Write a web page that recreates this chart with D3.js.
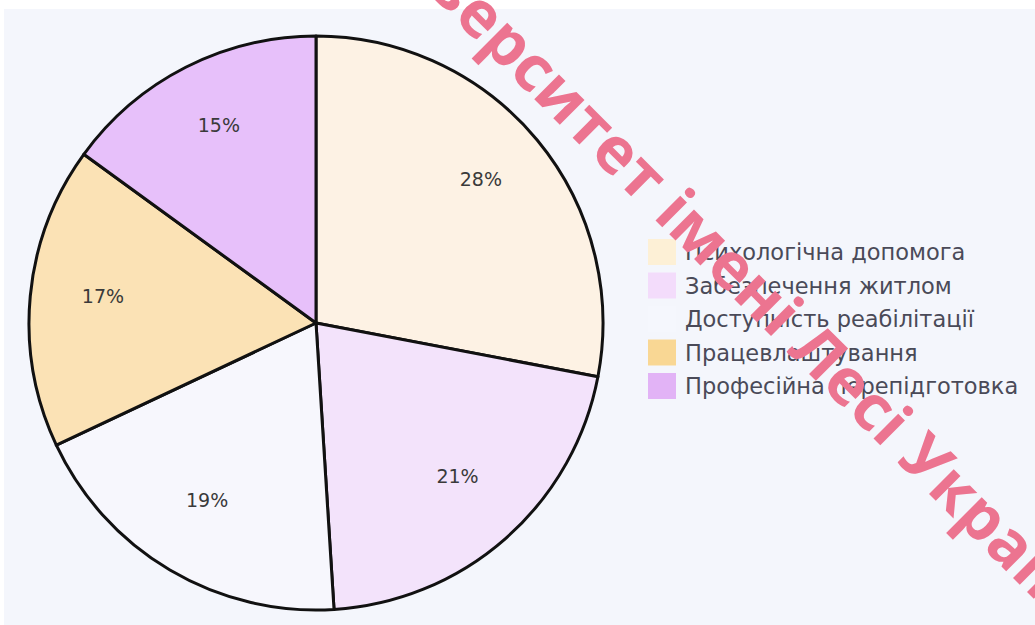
<!DOCTYPE html>
<html>
<head>
<meta charset="utf-8">
<script src="https://cdn.jsdelivr.net/npm/d3@7"></script>
<style>
  html, body { margin: 0; padding: 0; background: #ffffff; }
  svg { display: block; }
</style>
</head>
<body>
<svg id="chart" width="1035" height="625"></svg>
<script>
const categories = ["Психологічна допомога", "Забезпечення житлом", "Доступність реабілітації", "Працевлаштування", "Професійна перепідготовка"];
const values = [28, 21, 19, 17, 15];
const labels = ["28%", "21%", "19%", "17%", "15%"];
const sliceColors = ["#fdf2e4", "#f3e3fb", "#f7f7fd", "#fbe2b5", "#e7c0fa"];
const legendColors = ["#fdf0d6", "#f3dcfb", "#f5f7fd", "#f9d794", "#e2b3f6"];
const watermark = "Університет імені Лесі Українки";

const svg = d3.select("#chart");
const W = 1035, H = 625;

svg.append("rect").attr("x", 0).attr("y", 0).attr("width", W).attr("height", H).attr("fill", "#ffffff");
svg.append("rect").attr("x", 4).attr("y", 9).attr("width", W - 4).attr("height", H - 9).attr("fill", "#f4f6fc");

const cx = 316, cy = 323, R = 287;
const pie = d3.pie().sort(null).value(d => d);
const arcs = pie(values);
const arc = d3.arc().innerRadius(0).outerRadius(R);
const labelArc = d3.arc().innerRadius(214).outerRadius(214);

const g = svg.append("g").attr("transform", `translate(${cx},${cy})`);
g.selectAll("path.slice").data(arcs).enter().append("path")
  .attr("class", "slice")
  .attr("d", arc)
  .attr("fill", (d, i) => sliceColors[i])
  .attr("stroke", "#111")
  .attr("stroke-width", 3)
  .attr("stroke-linejoin", "round");

g.selectAll("text.lbl").data(arcs).enter().append("text")
  .attr("class", "lbl")
  .attr("transform", d => { const c = labelArc.centroid(d); return `translate(${c[0]},${c[1] - 7})`; })
  .attr("text-anchor", "middle")
  .attr("dy", "0.35em")
  .attr("font-family", "DejaVu Sans")
  .attr("font-size", 19)
  .attr("fill", "#3a3a3a")
  .text((d, i) => labels[i]);

// legend
const legend = svg.append("g").attr("transform", "translate(648,252)");
const rowH = 33.5;
const items = legend.selectAll("g").data(categories).enter().append("g")
  .attr("transform", (d, i) => `translate(0,${i * rowH})`);
items.append("rect")
  .attr("x", 0).attr("y", -13).attr("width", 28).attr("height", 26)
  .attr("fill", (d, i) => legendColors[i]);
items.append("text")
  .attr("x", 37).attr("y", 0).attr("dy", "0.36em")
  .attr("font-family", "DejaVu Sans")
  .attr("font-size", 22.5)
  .attr("fill", "#4a4a58")
  .text(d => d);

// watermark
const wm = svg.append("g").attr("transform", "translate(652,217) rotate(45)");
const wt = wm.append("text")
  .attr("font-family", "Open Sans")
  .attr("font-weight", "bold")
  .attr("font-size", 64)
  .attr("fill", "#ec7490")
  .text(watermark);
const idx = watermark.indexOf("імені");
const p = wt.node().getStartPositionOfChar(idx);
wt.attr("x", -p.x);
</script>
</body>
</html>
